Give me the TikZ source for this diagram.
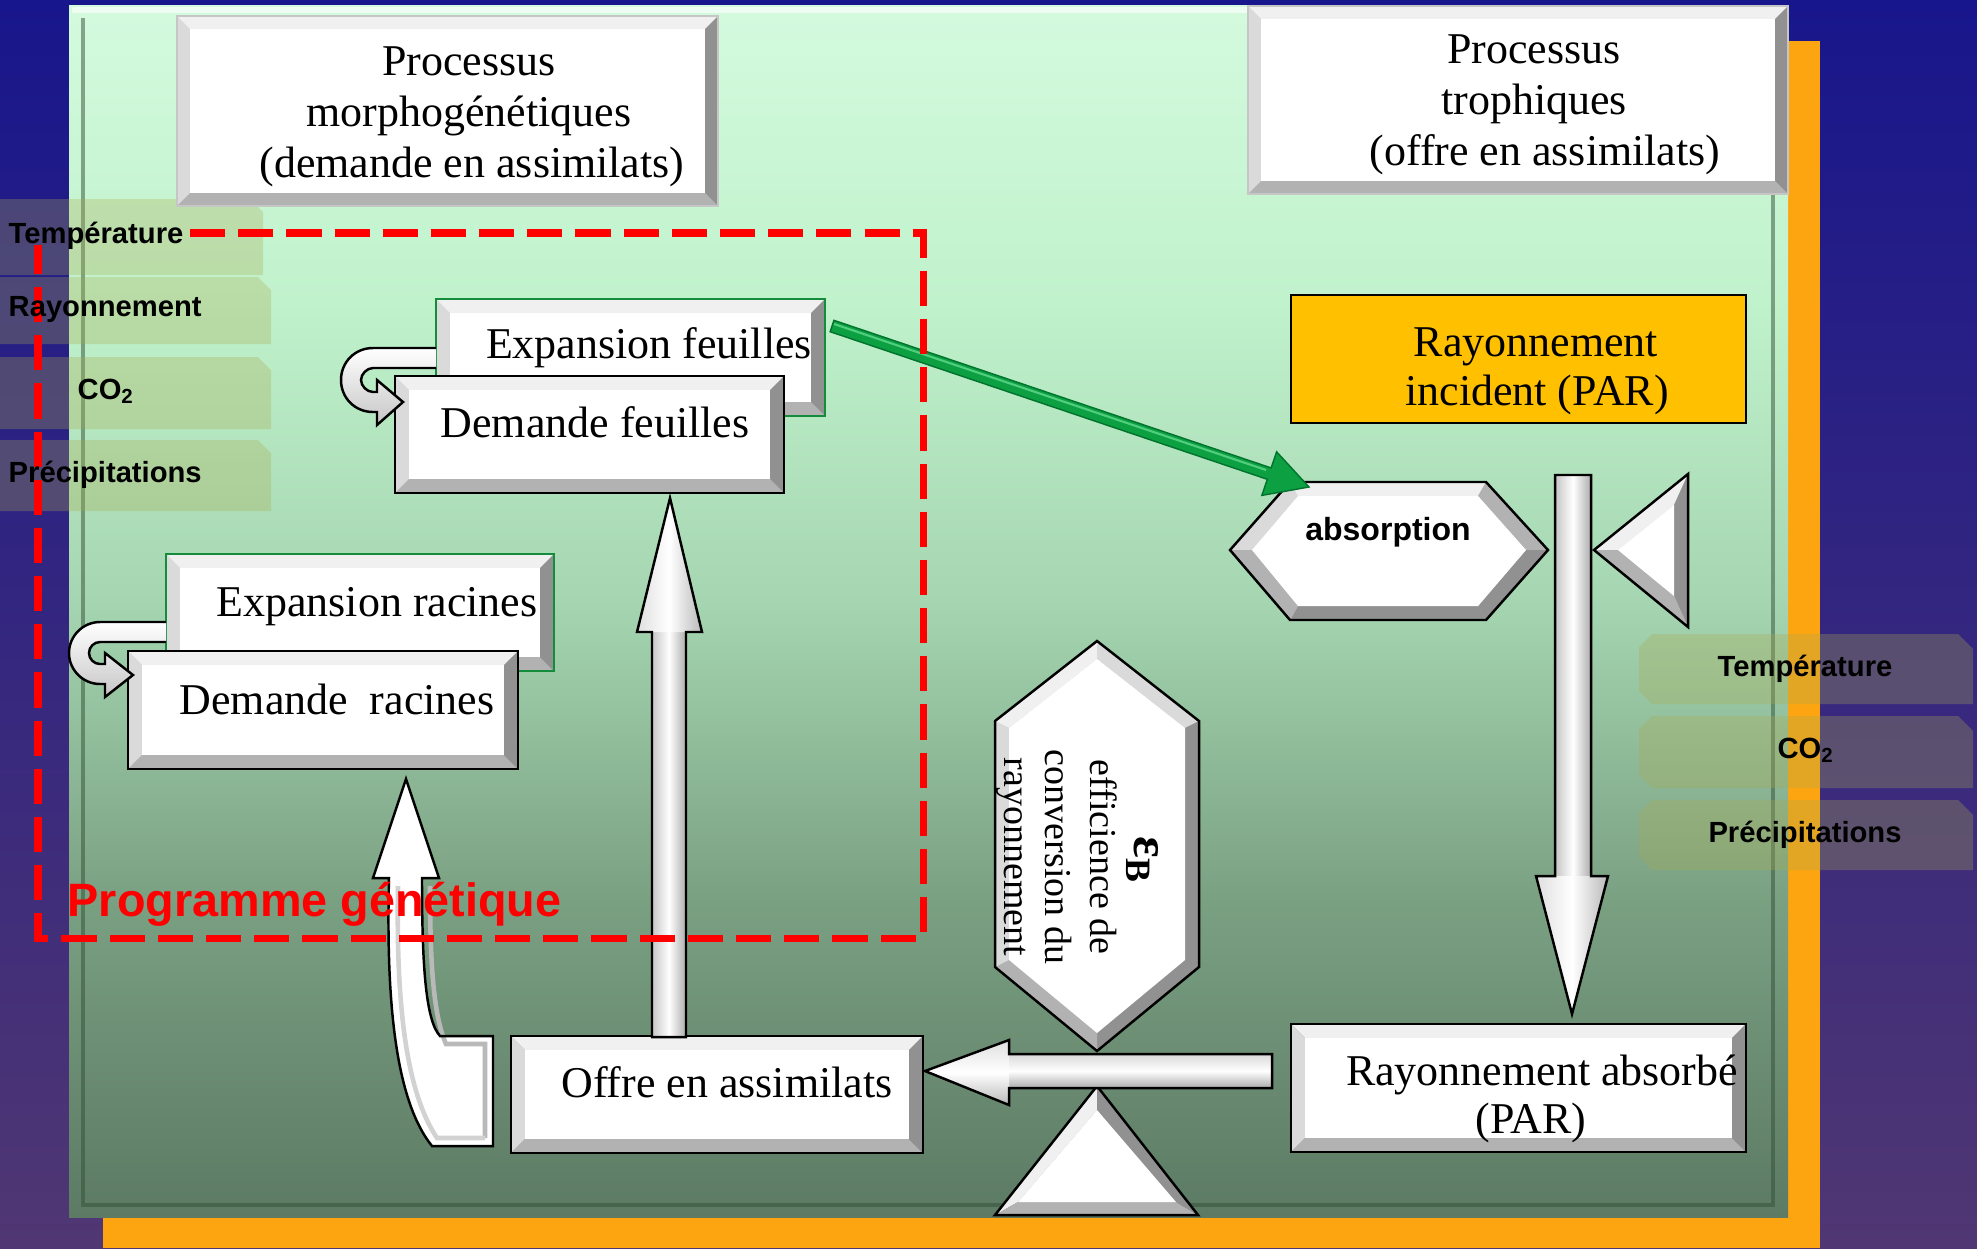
\documentclass[tikz,border=0pt]{standalone}
\usepackage{fontspec}
\setmainfont{Liberation Serif}
\newfontfamily\arialfont{Liberation Sans}
\definecolor{bgtop}{RGB}{24,22,140}
\definecolor{bgbot}{RGB}{80,55,115}
\definecolor{orangebar}{RGB}{252,165,17}
\definecolor{gA}{RGB}{212,250,222}
\definecolor{gB}{RGB}{192,242,204}
\definecolor{gC}{RGB}{165,214,177}
\definecolor{gD}{RGB}{122,160,130}
\definecolor{gE}{RGB}{92,122,100}
\definecolor{envbox}{RGB}{170,170,80}
\definecolor{parorange}{RGB}{255,192,0}
\definecolor{arrowgreen}{RGB}{12,160,66}
\definecolor{arrowgreenlight}{RGB}{80,205,125}
\definecolor{boxgreen}{RGB}{20,140,60}
\definecolor{bevA}{RGB}{240,240,240}
\definecolor{bevB}{RGB}{218,218,218}
\definecolor{bevC}{RGB}{178,178,178}
\definecolor{bevD}{RGB}{145,145,145}
\definecolor{framedark}{RGB}{50,80,55}
\tikzset{
  txt/.style={font=\fontsize{12.5}{14.5}\selectfont, inner sep=0pt, anchor=base},
  hextxt/.style={font=\fontsize{10.8}{13}\selectfont, inner sep=0pt, anchor=base, rotate=-90},
  envlab/.style={font=\arialfont\bfseries\fontsize{8.3}{10}\selectfont, inner sep=0pt, anchor=base},
  envbg/.style={fill=envbox, fill opacity=0.3},
  blackline/.style={draw=black, line width=0.8pt},
  arrowline/.style={draw=black, line width=0.7pt, line join=miter},
  reddash/.style={draw=red, line width=2pt, dash pattern=on 10pt off 3.7pt},
}
\newcommand\bevbox[6]{%
  \fill[bevA] (#1,#2) -- (#3,#2) -- (#3-#5,#2+#5) -- (#1+#5,#2+#5) -- cycle;
  \fill[bevB] (#1,#2) -- (#1+#5,#2+#5) -- (#1+#5,#4-#5) -- (#1,#4) -- cycle;
  \fill[bevC] (#1,#4) -- (#1+#5,#4-#5) -- (#3-#5,#4-#5) -- (#3,#4) -- cycle;
  \fill[bevD] (#3,#2) -- (#3,#4) -- (#3-#5,#4-#5) -- (#3-#5,#2+#5) -- cycle;
  \fill[white] (#1+#5,#2+#5) rectangle (#3-#5,#4-#5);
  \draw[#6] (#1,#2) rectangle (#3,#4);
}
\newcommand\facet[5]{\fill[#1] (#2) -- (#3) -- (#4) -- (#5) -- cycle;}
\begin{document}
\begin{tikzpicture}[x=0.01cm, y=-0.01cm]
\useasboundingbox (0,0) rectangle (1977,1248);
% background
\shade[top color=bgtop, bottom color=bgbot] (0,0) rectangle (1977,1248);
\fill[orangebar] (103,41) rectangle (1820,1248);
% green panel
\shade[top color=gA, bottom color=gB] (69,5) rectangle (1788,301);
\shade[top color=gB, bottom color=gC] (69,300) rectangle (1788,601);
\shade[top color=gC, bottom color=gD] (69,600) rectangle (1788,901);
\shade[top color=gD, bottom color=gE] (69,900) rectangle (1788,1217);
\draw[framedark, draw opacity=0.5, line width=0.9pt] (83,18) -- (83,1205) -- (1773,1205) -- (1773,18);
\draw[white, draw opacity=0.6, line width=1.5pt] (72,10) -- (1785,10);

% environment boxes (left)
\fill[envbg] (0,199) -- (250,199) -- (263,212) -- (263,275) -- (0,275) -- cycle;
\fill[envbg] (0,277) -- (258,277) -- (271,290) -- (271,344) -- (0,344) -- cycle;
\fill[envbg] (0,357) -- (258,357) -- (271,370) -- (271,429) -- (0,429) -- cycle;
\fill[envbg] (0,440) -- (258,440) -- (271,453) -- (271,511) -- (0,511) -- cycle;
% environment boxes (right)
\fill[envbg] (1652,634) -- (1958,634) -- (1973,649) -- (1973,704) -- (1652,704) -- (1639,691) -- (1639,647) -- cycle;
\fill[envbg] (1652,716) -- (1958,716) -- (1973,731) -- (1973,788) -- (1652,788) -- (1639,775) -- (1639,729) -- cycle;
\fill[envbg] (1652,800) -- (1958,800) -- (1973,815) -- (1973,870) -- (1652,870) -- (1639,857) -- (1639,813) -- cycle;

% process boxes
\bevbox{177}{16}{718}{206}{13}{draw=gray!45, line width=0.5pt}
\bevbox{1248}{6}{1788}{194}{13}{draw=gray!45, line width=0.5pt}
\node[txt] (pm1) at (469,75) {Processus};
\node[txt] (pm2) at (469,126) {morphogénétiques};
\node[txt] (pm3) at (472,177) {(demande en assimilats)};
\node[txt] (pt1) at (1534,63) {Processus};
\node[txt] (pt2) at (1534,114) {trophiques};
\node[txt] (pt3) at (1545,165) {(offre en assimilats)};

% leaves
\bevbox{436}{299}{825}{416}{14}{draw=boxgreen, line width=0.7pt}
\node[txt] (expf) at (649,358) {Expansion feuilles};
\bevbox{395}{376}{784}{493}{14}{blackline}
\node[txt] (demf) at (595,437) {Demande feuilles};
% roots
\bevbox{166}{554}{554}{671}{14}{draw=boxgreen, line width=0.7pt}
\node[txt] (expr) at (377,616) {Expansion racines};
\bevbox{128}{651}{518}{769}{14}{blackline}
\node[txt] (demr) at (337,714) {Demande\ \ racines};
% offre
\bevbox{511}{1036}{923}{1153}{14}{blackline}
\node[txt] (offre) at (727,1097) {Offre en assimilats};
% rayonnement absorbe
\bevbox{1291}{1024}{1746}{1152}{14}{blackline}
\node[txt] (ra1) at (1542,1085) {Rayonnement absorbé};
\node[txt] (ra2) at (1531,1133) {(PAR)};
% rayonnement incident
\fill[parorange] (1291,295) rectangle (1746,423);
\draw[blackline] (1291,295) rectangle (1746,423);
\node[txt] (ri1) at (1536,356) {Rayonnement};
\node[txt] (ri2) at (1537,405) {incident (PAR)};

% absorption hexagon
\coordinate (aoL) at (1230,550); \coordinate (aoTL) at (1290,482);
\coordinate (aoTR) at (1486,482); \coordinate (aoR) at (1548,550);
\coordinate (aoBR) at (1486,620); \coordinate (aoBL) at (1290,620);
\coordinate (aiL) at (1252,550); \coordinate (aiTL) at (1298,496);
\coordinate (aiTR) at (1478,496); \coordinate (aiR) at (1526,550);
\coordinate (aiBR) at (1478,606); \coordinate (aiBL) at (1298,606);
\facet{bevB}{aoL}{aoTL}{aiTL}{aiL}
\facet{bevA}{aoTL}{aoTR}{aiTR}{aiTL}
\facet{bevC}{aoTR}{aoR}{aiR}{aiTR}
\facet{bevD}{aoR}{aoBR}{aiBR}{aiR}
\facet{bevD}{aoBR}{aoBL}{aiBL}{aiBR}
\facet{bevC}{aoBL}{aoL}{aiL}{aiBL}
\fill[white] (aiL) -- (aiTL) -- (aiTR) -- (aiR) -- (aiBR) -- (aiBL) -- cycle;
\draw[arrowline] (aoL) -- (aoTL) -- (aoTR) -- (aoR) -- (aoBR) -- (aoBL) -- cycle;
\node[envlab, font=\arialfont\bfseries\fontsize{9.1}{11}\selectfont] (absorb) at (1388,540) {absorption};

% left-pointing triangle
\coordinate (toT) at (1594,550); \coordinate (toA) at (1688,474); \coordinate (toB) at (1688,627);
\coordinate (tiT) at (1618,550); \coordinate (tiA) at (1674,505); \coordinate (tiB) at (1674,596);
\facet{bevA}{toT}{toA}{tiA}{tiT}
\facet{bevD}{toA}{toB}{tiB}{tiA}
\facet{bevC}{toB}{toT}{tiT}{tiB}
\fill[white] (tiT) -- (tiA) -- (tiB) -- cycle;
\draw[arrowline] (toT) -- (toA) -- (toB) -- cycle;

% tall hexagon
\coordinate (hoT) at (1097,641); \coordinate (hoUR) at (1199,721);
\coordinate (hoLR) at (1199,967); \coordinate (hoB) at (1097,1051);
\coordinate (hoLL) at (995,967); \coordinate (hoUL) at (995,721);
\coordinate (hiT) at (1097,659); \coordinate (hiUR) at (1185,728);
\coordinate (hiLR) at (1185,960); \coordinate (hiB) at (1097,1033);
\coordinate (hiLL) at (1009,960); \coordinate (hiUL) at (1009,728);
\facet{bevA}{hoUL}{hoT}{hiT}{hiUL}
\facet{bevB}{hoT}{hoUR}{hiUR}{hiT}
\facet{bevD}{hoUR}{hoLR}{hiLR}{hiUR}
\facet{bevD}{hoLR}{hoB}{hiB}{hiLR}
\facet{bevC}{hoB}{hoLL}{hiLL}{hiB}
\facet{bevB}{hoLL}{hoUL}{hiUL}{hiLL}
\fill[white] (hiT) -- (hiUR) -- (hiLR) -- (hiB) -- (hiLL) -- (hiUL) -- cycle;
\draw[arrowline] (hoT) -- (hoUR) -- (hoLR) -- (hoB) -- (hoLL) -- (hoUL) -- cycle;
\node[hextxt, font=\bfseries\fontsize{14.5}{16}\selectfont] (eps) at (1134,860) {ε\textsubscript{B}};
\node[hextxt] (eff1) at (1090,857) {efficience de};
\node[hextxt] (eff2) at (1045,857) {conversion du};
\node[hextxt] (eff3) at (1004,857) {rayonnement};

% up-pointing triangle
\coordinate (uoA) at (1097,1086); \coordinate (uoL) at (995,1215); \coordinate (uoR) at (1198,1215);
\coordinate (uiA) at (1097,1110); \coordinate (uiL) at (1018,1202); \coordinate (uiR) at (1176,1202);
\facet{bevA}{uoA}{uoL}{uiL}{uiA}
\facet{bevC}{uoL}{uoR}{uiR}{uiL}
\facet{bevD}{uoR}{uoA}{uiA}{uiR}
\fill[white] (uiA) -- (uiL) -- (uiR) -- cycle;
\draw[arrowline] (uoA) -- (uoL) -- (uoR) -- cycle;

% vertical up arrow (offre -> demande feuilles)
\fill[white] (652,1037) -- (652,632) -- (637,632) -- (670,498) -- (702,632) -- (686,632) -- (686,1037) -- cycle;
\shade[left color=gray!45, right color=gray!65, middle color=white] (652,632) rectangle (686,1037);
\shade[left color=gray!25, right color=gray!55, middle color=white] (637,632) -- (670,498) -- (702,632) -- cycle;
\draw[arrowline] (652,1037) -- (652,632) -- (637,632) -- (670,498) -- (702,632) -- (686,632) -- (686,1037) -- cycle;

% vertical down arrow (absorption -> rayonnement absorbe)
\fill[white] (1555,475) -- (1591,475) -- (1591,876) -- (1608,876) -- (1572,1014) -- (1536,876) -- (1555,876) -- cycle;
\shade[left color=gray!45, right color=gray!65, middle color=white] (1555,475) rectangle (1591,876);
\shade[left color=gray!25, right color=gray!55, middle color=white] (1536,876) -- (1608,876) -- (1572,1014) -- cycle;
\draw[arrowline] (1555,475) -- (1591,475) -- (1591,876) -- (1608,876) -- (1572,1014) -- (1536,876) -- (1555,876) -- cycle;

% left arrow (rayonnement absorbe -> offre)
\fill[white] (1272,1054) -- (1009,1054) -- (1009,1040) -- (925,1071) -- (1009,1105) -- (1009,1088) -- (1272,1088) -- cycle;
\shade[top color=gray!30, bottom color=gray!65, middle color=white] (1009,1054) rectangle (1272,1088);
\shade[top color=gray!25, bottom color=gray!55, middle color=white] (1009,1040) -- (925,1071) -- (1009,1105) -- cycle;
\draw[arrowline] (1272,1054) -- (1009,1054) -- (1009,1040) -- (925,1071) -- (1009,1105) -- (1009,1088) -- (1272,1088) -- cycle;

% curved arrow (offre -> demande racines)
\fill[white] (406,779) -- (439,878) -- (422,878) .. controls (422,960) and (425,1020) .. (440,1036) -- (493,1036) -- (493,1146) -- (432,1146) .. controls (395,1100) and (386,1000) .. (389,878) -- (373,878) -- cycle;
\draw[gray!55, line width=1.3pt] (430,886) .. controls (430,960) and (433,1015) .. (446,1044) -- (485,1044) -- (485,1138);
\draw[gray!35, line width=1.3pt] (398,886) .. controls (396,1000) and (405,1090) .. (437,1138) -- (485,1138);
\draw[arrowline] (406,779) -- (439,878) -- (422,878) .. controls (422,960) and (425,1020) .. (440,1036) -- (493,1036) -- (493,1146) -- (432,1146) .. controls (395,1100) and (386,1000) .. (389,878) -- (373,878) -- cycle;

% U-turn arrow (expansion feuilles -> demande feuilles)
\shade[top color=white, bottom color=gray!45] (436,348) -- (373,348) .. controls (355,348) and (341,362) .. (341,380) .. controls (341,398) and (355,412) .. (373,412) -- (377,412) -- (377,425) -- (403,402) -- (377,380) -- (377,392) -- (373,392) .. controls (367,392) and (361,386) .. (361,380) .. controls (361,374) and (367,368) .. (373,368) -- (436,368) -- cycle;
\draw[arrowline] (436,348) -- (373,348) .. controls (355,348) and (341,362) .. (341,380) .. controls (341,398) and (355,412) .. (373,412) -- (377,412) -- (377,425) -- (403,402) -- (377,380) -- (377,392) -- (373,392) .. controls (367,392) and (361,386) .. (361,380) .. controls (361,374) and (367,368) .. (373,368) -- (436,368);

% U-turn arrow (expansion racines -> demande racines)
\shade[top color=white, bottom color=gray!45] (166,622) -- (100,622) .. controls (83,622) and (69,636) .. (69,653) .. controls (69,670) and (83,684) .. (100,684) -- (105,684) -- (105,697) -- (133,675) -- (105,653) -- (105,664) -- (100,664) .. controls (94,664) and (89,659) .. (89,653) .. controls (89,647) and (94,642) .. (100,642) -- (166,642) -- cycle;
\draw[arrowline] (166,622) -- (100,622) .. controls (83,622) and (69,636) .. (69,653) .. controls (69,670) and (83,684) .. (100,684) -- (105,684) -- (105,697) -- (133,675) -- (105,653) -- (105,664) -- (100,664) .. controls (94,664) and (89,659) .. (89,653) .. controls (89,647) and (94,642) .. (100,642) -- (166,642);

% green arrow (expansion feuilles -> absorption)
\filldraw[fill=arrowgreen, draw={rgb,255:red,0;green,115;blue,45}, line width=0.4pt, line join=miter]
  (833.9,320.3) -- (1271.1,467.9) -- (1276.6,451.8) -- (1309,487) -- (1261.8,495.4) -- (1267.3,479.3) -- (830.1,331.7) -- cycle;
\draw[arrowgreenlight, line width=0.6pt] (834,324) -- (1266,470);

% programme genetique dashed frame
\draw[reddash] (190,233) -- (923,233) -- (923,938) -- (38,938) -- (38,245);
\node[envlab, anchor=base west, text=red, font=\arialfont\bfseries\fontsize{13.3}{16}\selectfont] (prog) at (67,916) {Programme génétique};

% environment labels
\node[envlab, anchor=base west] (lT) at (8,243) {Température};
\node[envlab, anchor=base west] (lR) at (8,316) {Rayonnement};
\node[envlab, anchor=base west] (lC) at (77,399) {CO\textsubscript{2}};
\node[envlab, anchor=base west] (lP) at (8,482) {Précipitations};
\node[envlab] (rT) at (1805,676) {Température};
\node[envlab] (rC) at (1806,758) {CO\textsubscript{2}};
\node[envlab] (rP) at (1805,842) {Précipitations};
\end{tikzpicture}
\end{document}
